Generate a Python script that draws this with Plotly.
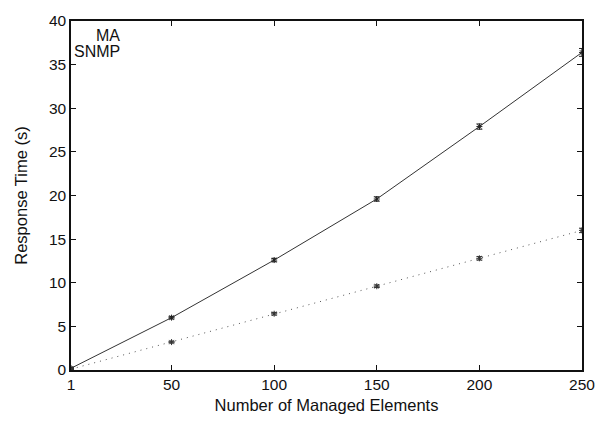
import plotly.graph_objects as go

elements = [1, 50, 100, 150, 200, 250]
ma_time = [0.2, 6.0, 12.6, 19.6, 27.9, 36.4]
ma_err = [0.1, 0.15, 0.2, 0.25, 0.3, 0.45]
snmp_time = [0.1, 3.2, 6.45, 9.6, 12.8, 16.0]
snmp_err = [0.05, 0.1, 0.15, 0.15, 0.2, 0.25]
x_ticks = [1, 50, 100, 150, 200, 250]
y_ticks = [0, 5, 10, 15, 20, 25, 30, 35, 40]

font = "Liberation Sans, Arial, sans-serif"

fig = go.Figure()
fig.add_trace(go.Scatter(
    x=elements, y=ma_time, name="MA", mode="lines+markers",
    line=dict(color="#333", width=1),
    marker=dict(symbol="asterisk-open", size=5, color="#222", line=dict(width=1, color="#222")),
    error_y=dict(type="data", array=ma_err, color="#222", thickness=1, width=3),
))
fig.add_trace(go.Scatter(
    x=elements, y=snmp_time, name="SNMP", mode="lines+markers",
    line=dict(color="#555", width=1, dash="1px,5px"),
    marker=dict(symbol="asterisk-open", size=5, color="#333", line=dict(width=1, color="#333")),
    error_y=dict(type="data", array=snmp_err, color="#333", thickness=1, width=3),
))

fig.add_annotation(x=122, y=32, xref="paper", yref="paper", text="MA",
                   showarrow=False, xanchor="right", yanchor="middle",
                   font=dict(family=font, size=16, color="#111"))
fig.add_annotation(x=122, y=48, xref="paper", yref="paper", text="SNMP",
                   showarrow=False, xanchor="right", yanchor="middle",
                   font=dict(family=font, size=16, color="#111"))

# convert pixel annotation positions to paper coords
L, R, T, B = 71, 26, 17, 54
W, H = 608, 424
pw, ph = W - L - R, H - T - B
for a in fig.layout.annotations:
    a.x = (a.x - L) / pw
    a.y = 1 - (a.y - T) / ph

fig.update_layout(
    width=W, height=H,
    margin=dict(l=L, r=R, t=T, b=B),
    paper_bgcolor="white", plot_bgcolor="white",
    showlegend=False,
    font=dict(family=font, size=15, color="#111"),
)
fig.update_xaxes(
    range=[1, 250], tickvals=x_ticks, ticktext=[str(v) for v in x_ticks],
    showgrid=False, zeroline=False, showline=True, linecolor="#111", linewidth=1.5,
    mirror="allticks", ticks="inside", ticklen=5, tickcolor="#111",
    title=dict(text="Number of Managed Elements", font=dict(size=16.5), standoff=7),
    tickfont=dict(size=15.5),
)
fig.update_yaxes(
    range=[0, 40], tickvals=y_ticks,
    showgrid=False, zeroline=False, showline=True, linecolor="#111", linewidth=1.5,
    mirror="allticks", ticks="inside", ticklen=5, tickcolor="#111",
    title=dict(text="Response Time (s)", font=dict(size=16.5), standoff=17),
    tickfont=dict(size=15.5),
)

fig.write_html("out.html", post_script="document.body.style.margin='0';",
               config={"displayModeBar": False})
